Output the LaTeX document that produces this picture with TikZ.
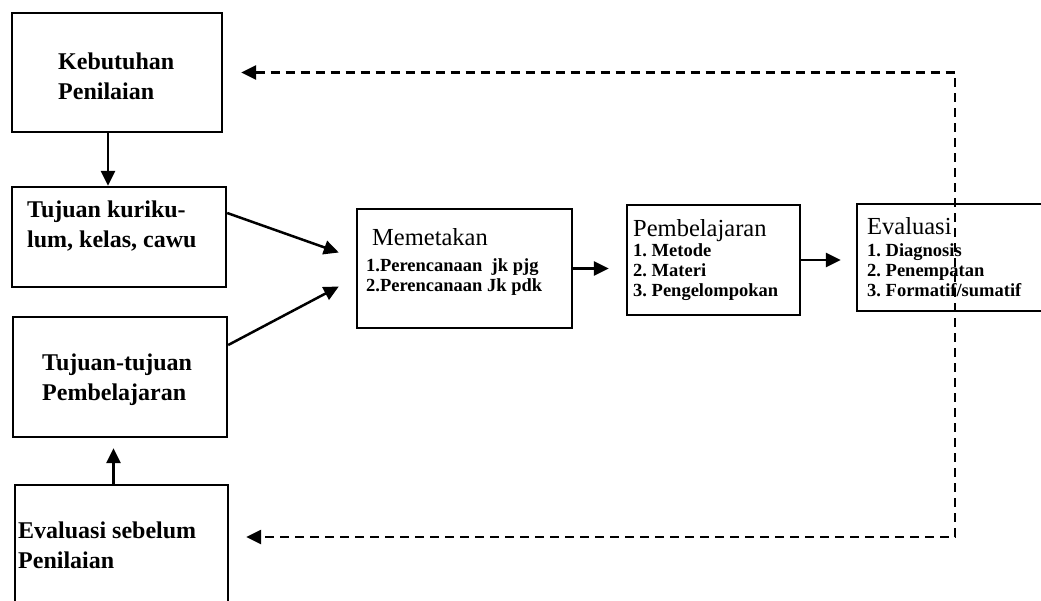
\documentclass[tikz,border=0pt]{standalone}
\usepackage{fontspec}
\setmainfont{Liberation Serif}
\usetikzlibrary{arrows.meta}

\tikzstyle{kotak}=[draw=black, line width=2.4pt, inner sep=0pt]
\tikzstyle{teks kiri}=[inner sep=0pt, anchor=north west, align=left, font=\bfseries\fontsize{24}{30}\selectfont]
\tikzstyle{judul}=[inner sep=0pt, anchor=base west, font=\fontsize{24.5}{29}\selectfont]
\tikzstyle{isi}=[inner sep=0pt, anchor=north west, align=left, font=\bfseries\fontsize{18.5}{20}\selectfont]
\tikzstyle{panah}=[line width=2.5pt, -{Triangle[length=15pt,width=14pt]}]
\tikzstyle{putus}=[line width=2.5pt, dash pattern=on 9pt off 6pt, {Triangle[length=15pt,width=14pt]}-{Triangle[length=15pt,width=14pt]}]

\begin{document}
\begin{tikzpicture}[x=1pt, y=-1pt]
	\useasboundingbox (0,0) rectangle (1041,600);

	% kotak kiri
	\node[kotak, minimum width=210pt, minimum height=119pt] (keb) at (117,72.5) {};
	\node[kotak, minimum width=214pt, minimum height=100pt] (kur) at (119,237) {};
	\node[kotak, minimum width=214pt, minimum height=120pt] (tt) at (120,377) {};
	\node[kotak, minimum width=213pt, minimum height=135pt] (evs) at (121.5,552.5) {};

	\node[teks kiri] (kebteks) at (58,53) {Kebutuhan\\Penilaian};
	\node[teks kiri] (kurteks) at (27,201) {Tujuan kuriku-\\lum, kelas, cawu};
	\node[teks kiri] (ttteks) at (42,353.5) {Tujuan-tujuan\\Pembelajaran};
	\node[teks kiri] (evsteks) at (18,521.5) {Evaluasi sebelum\\Penilaian};

	% kotak tengah dan kanan
	\node[kotak, minimum width=215pt, minimum height=119pt] (mem) at (464.5,268.5) {};
	\node[kotak, minimum width=173pt, minimum height=110pt] (pem) at (713.5,260) {};
	\node[kotak, minimum width=203pt, minimum height=107pt] (eva) at (958.5,257.5) {};

	\node[judul] (memjudul) at (372,245) {Memetakan};
	\node[isi] (memisi) at (366,258.5) {1.Perencanaan\ \ jk pjg\\2.Perencanaan Jk pdk};
	\node[judul] (pemjudul) at (633,236) {Pembelajaran};
	\node[isi] (pemisi) at (633,243) {1.\ Metode\\2.\ Materi\\3.\ Pengelompokan};
	\node[judul] (evajudul) at (867,234) {Evaluasi};
	\node[isi] (evaisi) at (867,243) {1.\ Diagnosis\\2.\ Penempatan\\3.\ Formatif/sumatif};

	% panah
	\draw[panah] ([xshift=-9pt]keb.south) -- ([xshift=-9pt]keb.south |- kur.north);
	\draw[panah, shorten >=10pt] ([xshift=-8pt]evs.north) -- ([xshift=-8pt]evs.north |- tt.south);
	\draw[panah] ([yshift=24pt]kur.east) -- ([shift={(-17pt,16pt)}]mem.west);
	\draw[panah] ([yshift=32pt]tt.east) -- ([shift={(-17pt,-18pt)}]mem.west);
	\draw[panah, shorten >=17pt] (mem.east) -- (mem.east -| pem.west);
	\draw[panah, shorten >=15pt] (pem.east) -- (pem.east -| eva.west);

	% umpan balik
	\coordinate (sudutatas) at (955,72.5);
	\coordinate (sudutbawah) at (955,537);
	\draw[putus, shorten <=18pt, shorten >=17pt] (keb.east) -- (sudutatas) -- (sudutbawah) -- (evs.east |- sudutbawah);
\end{tikzpicture}
\end{document}
